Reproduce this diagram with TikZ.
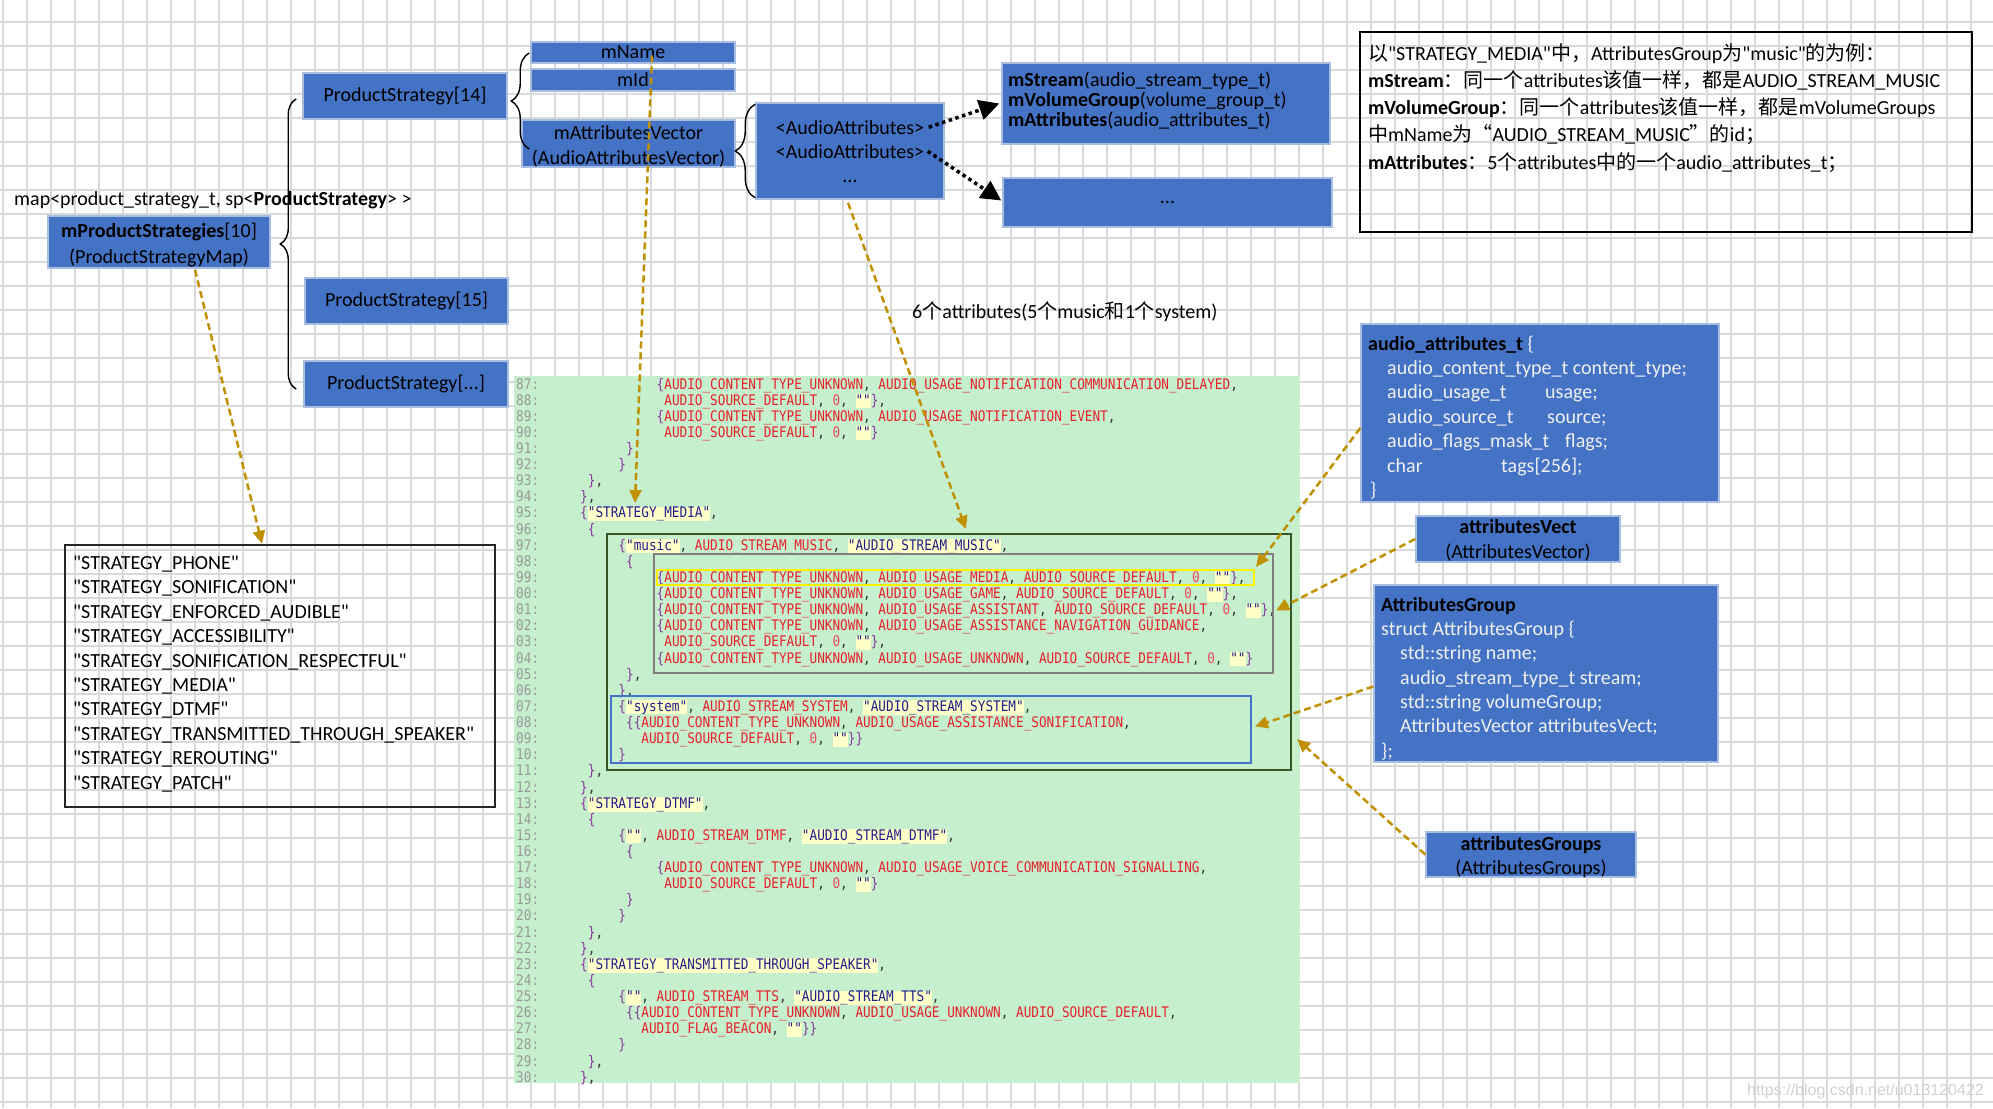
\documentclass[tikz,border=0pt]{standalone}
\usepackage{fontspec}
\setmainfont{Carlito}[Ligatures=TeXOff]
\newfontfamily\cjk{Noto Sans CJK SC}[Ligatures=TeXOff]
\newfontfamily\kcode{DejaVu Sans Mono}[FakeStretch=0.87,Ligatures=TeXOff]
\newfontfamily\wmfont{Liberation Sans}
\usetikzlibrary{arrows.meta,decorations.pathreplacing,calc}
\definecolor{boxblue}{HTML}{4472C4}
\definecolor{boxedge}{HTML}{A9BCE2}
\definecolor{codegreen}{HTML}{C6EFCE}
\definecolor{gold}{HTML}{BF9000}
\definecolor{gridc}{HTML}{D9D9D9}
\definecolor{kpurple}{HTML}{8B3A9E}
\definecolor{kred}{HTML}{E8202A}
\definecolor{kpink}{HTML}{EE4A5A}
\definecolor{knavy}{HTML}{1F1F8C}
\definecolor{kyellow}{HTML}{FFFFC8}
\definecolor{kdark}{HTML}{333333}
\definecolor{lngray}{HTML}{999999}
\definecolor{dkgreen}{HTML}{375623}
\definecolor{midgray}{HTML}{7F7F7F}
\definecolor{lightbody}{HTML}{F0F0F0}
\newcommand\kB[1]{\textcolor{kpurple}{#1}}
\newcommand\kI[1]{\textcolor{kred}{#1}}
\newcommand\kS[1]{{\setlength{\fboxsep}{0pt}\colorbox{kyellow}{\rule[-3pt]{0pt}{14pt}\textcolor{knavy}{#1}}}}
\newcommand\kN[1]{\textcolor{kpink}{#1}}
\newcommand\kLB{\kB{\{}}
\newcommand\kRB{\kB{\}}}
\newcommand\kACT{\kI{AUDIO\_CONTENT\_TYPE\_UNKNOWN}}
\newcommand\kASD{\kI{AUDIO\_SOURCE\_DEFAULT}}
\newcommand\kEMP{\kS{""}}
\newcommand\kline[4]{%
  \node[lnum,anchor=base west] (n#2) at (516,{389+#2*16.12}) {#1:};
  \node[codetxt,anchor=base west] (c#2) at ({580+#3*7.65},{389+#2*16.12}) {#4};}
\tikzset{
  bluebox/.style={draw=boxedge, fill=boxblue, line width=1.5pt, inner sep=0pt, text=black,
    font=\fontsize{20}{25}\selectfont, align=center},
  lbl/.style={inner sep=0pt, font=\fontsize{20}{25}\selectfont, anchor=base west},
  lblc/.style={inner sep=0pt, font=\fontsize{20}{25}\selectfont, anchor=base},
  codetxt/.style={inner sep=0pt, font=\kcode\fontsize{14.6}{16}\selectfont, text=kdark},
  lnum/.style={inner sep=0pt, font=\kcode\fontsize{14.6}{16}\selectfont, text=lngray},
  goldarrow/.style={draw=gold, line width=2.5pt, dash pattern=on 7pt off 4pt,
    -{Triangle[length=13pt,width=12pt]}},
  blackarrow/.style={draw=black, line width=3.5pt, dash pattern=on 3.5pt off 3.5pt,
    -{Triangle[length=20pt,width=20pt]}},
  bracestyle/.style={draw=black, line width=1.4pt, decorate, decoration={brace, amplitude=#1}},
  gridline/.style={draw=gridc, line width=1.2pt},
  framebox/.style={draw=#1, line width=2.2pt, inner sep=0pt, fill=none},
}
\begin{document}
\begin{tikzpicture}[x=1pt,y=-1pt]
\useasboundingbox (0,0) rectangle (1993,1108);
\clip (0,0) rectangle (1993,1108);
\fill[white] (0,0) rectangle (1993,1108);
% grid
\foreach \i in {0,...,83} \draw[gridline] ({3+24*\i},0) -- ({3+24*\i},1108);
\foreach \j in {0,...,45} \draw[gridline] (0,{22+24*\j}) -- (1993,{22+24*\j});

% code background
\node[fill=codegreen, inner sep=0pt, minimum width=786pt, minimum height=707pt] (codebg) at (907,729.5) {};

% code lines
\kline{87}{0}{10}{\kLB\kACT, \kI{AUDIO\_USAGE\_NOTIFICATION\_COMMUNICATION\_DELAYED},}
\kline{88}{1}{11}{\kASD, \kN{0}, \kEMP\kRB,}
\kline{89}{2}{10}{\kLB\kACT, \kI{AUDIO\_USAGE\_NOTIFICATION\_EVENT},}
\kline{90}{3}{11}{\kASD, \kN{0}, \kEMP\kRB}
\kline{91}{4}{6}{\kRB}
\kline{92}{5}{5}{\kRB}
\kline{93}{6}{1}{\kRB,}
\kline{94}{7}{0}{\kRB,}
\kline{95}{8}{0}{\kLB\kS{"STRATEGY\_MEDIA"},}
\kline{96}{9}{1}{\kLB}
\kline{97}{10}{5}{\kLB\kS{"music"}, \kI{AUDIO\_STREAM\_MUSIC}, \kS{"AUDIO\_STREAM\_MUSIC"},}
\kline{98}{11}{6}{\kLB}
\kline{99}{12}{10}{\kLB\kACT, \kI{AUDIO\_USAGE\_MEDIA}, \kASD, \kN{0}, \kEMP\kRB,}
\kline{00}{13}{10}{\kLB\kACT, \kI{AUDIO\_USAGE\_GAME}, \kASD, \kN{0}, \kEMP\kRB,}
\kline{01}{14}{10}{\kLB\kACT, \kI{AUDIO\_USAGE\_ASSISTANT}, \kASD, \kN{0}, \kEMP\kRB,}
\kline{02}{15}{10}{\kLB\kACT, \kI{AUDIO\_USAGE\_ASSISTANCE\_NAVIGATION\_GUIDANCE},}
\kline{03}{16}{11}{\kASD, \kN{0}, \kEMP\kRB,}
\kline{04}{17}{10}{\kLB\kACT, \kI{AUDIO\_USAGE\_UNKNOWN}, \kASD, \kN{0}, \kEMP\kRB}
\kline{05}{18}{6}{\kRB,}
\kline{06}{19}{5}{\kRB,}
\kline{07}{20}{5}{\kLB\kS{"system"}, \kI{AUDIO\_STREAM\_SYSTEM}, \kS{"AUDIO\_STREAM\_SYSTEM"},}
\kline{08}{21}{6}{\kLB\kLB\kACT, \kI{AUDIO\_USAGE\_ASSISTANCE\_SONIFICATION},}
\kline{09}{22}{8}{\kASD, \kN{0}, \kEMP\kRB\kRB}
\kline{10}{23}{5}{\kRB}
\kline{11}{24}{1}{\kRB,}
\kline{12}{25}{0}{\kRB,}
\kline{13}{26}{0}{\kLB\kS{"STRATEGY\_DTMF"},}
\kline{14}{27}{1}{\kLB}
\kline{15}{28}{5}{\kLB\kEMP, \kI{AUDIO\_STREAM\_DTMF}, \kS{"AUDIO\_STREAM\_DTMF"},}
\kline{16}{29}{6}{\kLB}
\kline{17}{30}{10}{\kLB\kACT, \kI{AUDIO\_USAGE\_VOICE\_COMMUNICATION\_SIGNALLING},}
\kline{18}{31}{11}{\kASD, \kN{0}, \kEMP\kRB}
\kline{19}{32}{6}{\kRB}
\kline{20}{33}{5}{\kRB}
\kline{21}{34}{1}{\kRB,}
\kline{22}{35}{0}{\kRB,}
\kline{23}{36}{0}{\kLB\kS{"STRATEGY\_TRANSMITTED\_THROUGH\_SPEAKER"},}
\kline{24}{37}{1}{\kLB}
\kline{25}{38}{5}{\kLB\kEMP, \kI{AUDIO\_STREAM\_TTS}, \kS{"AUDIO\_STREAM\_TTS"},}
\kline{26}{39}{6}{\kLB\kLB\kACT, \kI{AUDIO\_USAGE\_UNKNOWN}, \kASD,}
\kline{27}{40}{8}{\kI{AUDIO\_FLAG\_BEACON}, \kEMP\kRB\kRB}
\kline{28}{41}{5}{\kRB}
\kline{29}{42}{1}{\kRB,}
\kline{30}{43}{0}{\kRB,}

% frames in code
\node[framebox=dkgreen, minimum width=684pt, minimum height=236pt] (gbox) at (949,652) {};
\node[framebox=midgray, minimum width=619pt, minimum height=119pt] (graybox) at (963.5,613.5) {};
\node[framebox=yellow, minimum width=597pt, minimum height=15pt] (ybox) at (955.5,577.5) {};
\node[framebox=boxblue, line width=2pt, minimum width=640pt, minimum height=67pt] (bbox) at (931,729.5) {};

% blue boxes
\node[bluebox, minimum width=204pt, minimum height=21pt] (mname) at (633,52.5) {mName};
\node[bluebox, minimum width=204pt, minimum height=22pt] (mid) at (633,80) {mId};
\node[bluebox, minimum width=204pt, minimum height=46pt] (ps14) at (405,96) {ProductStrategy[14]};
\node[bluebox, minimum width=213pt, minimum height=47pt] (mav) at (628.5,143.5) {};
\node[lblc] (mavt1) at (628.5,139) {mAttributesVector};
\node[lblc] (mavt2) at (628.5,164) {(AudioAttributesVector)};
\node[bluebox, minimum width=188pt, minimum height=96pt] (aa) at (850,151) {};
\node[lblc] (aat1) at (850,134) {<AudioAttributes>};
\node[lblc] (aat2) at (850,158) {<AudioAttributes>};
\node[lblc] (aat3) at (850,182) {...};
\node[bluebox, minimum width=222pt, minimum height=52pt] (mps) at (159,242) {};
\node[lblc] (mpst1) at (159,237) {\textbf{mProductStrategies}[10]};
\node[lblc] (mpst2) at (159,263) {(ProductStrategyMap)};
\node[bluebox, minimum width=203pt, minimum height=46pt] (ps15) at (406.5,301) {ProductStrategy[15]};
\node[bluebox, minimum width=204pt, minimum height=46pt] (psdots) at (406,384) {ProductStrategy[...]};
\node[bluebox, minimum width=328pt, minimum height=81pt] (mstream) at (1166,103.5) {};
\node[lbl] (ms1) at (1008,86) {\textbf{mStream}(audio\_stream\_type\_t)};
\node[lbl] (ms2) at (1008,106) {\textbf{mVolumeGroup}(volume\_group\_t)};
\node[lbl] (ms3) at (1008,126) {\textbf{mAttributes}(audio\_attributes\_t)};
\node[bluebox, minimum width=329pt, minimum height=49pt] (dots) at (1167.5,202.5) {...};

% labels
\node[lbl] (maplbl) at (14,205) {map<product\_strategy\_t, sp<\textbf{ProductStrategy}> >};
\node[lbl] (sixlbl) at (912,318) {6{\cjk 个}attributes(5{\cjk 个}music{\cjk 和}1{\cjk 个}system)};

% note box
\node[draw=black, line width=2.5pt, inner sep=0pt, minimum width=612pt, minimum height=200pt] (note) at (1666,132) {};
\node[lbl] (nt1) at (1368,60) {{\cjk 以}"STRATEGY\_MEDIA"{\cjk 中，}AttributesGroup{\cjk 为}"music"{\cjk 的为例：}};
\node[lbl] (nt2) at (1368,88) {\textbf{mStream}{\cjk ：同一个}attributes{\cjk 该值一样，都是}AUDIO\_STREAM\_MUSIC};
\node[lbl] (nt3) at (1368,114) {\textbf{mVolumeGroup}{\cjk ：同一个}attributes{\cjk 该值一样，都是}mVolumeGroups};
\node[lbl] (nt4) at (1368,141) {{\cjk 中}mName{\cjk 为“}AUDIO\_STREAM\_MUSIC{\cjk ”的}id{\cjk ；}};
\node[lbl] (nt5) at (1368,169) {\textbf{mAttributes}{\cjk ：}5{\cjk 个}attributes{\cjk 中的一个}audio\_attributes\_t{\cjk ；}};

% audio_attributes_t box
\node[bluebox, minimum width=358pt, minimum height=178pt] (aat) at (1540,413) {};
\begin{scope}[every node/.style={lbl, text=lightbody}]
\node (aah) at (1368,350) {\textcolor{black}{\textbf{audio\_attributes\_t}} \{};
\node (aa1) at (1387,374) {audio\_content\_type\_t content\_type;};
\node (aa2) at (1387,398) {audio\_usage\_t};
\node (aa2b) at (1545,398) {usage;};
\node (aa3) at (1387,423) {audio\_source\_t};
\node (aa3b) at (1547,423) {source;};
\node (aa4) at (1387,447) {audio\_flags\_mask\_t};
\node (aa4b) at (1565,447) {flags;};
\node (aa5) at (1387,472) {char};
\node (aa5b) at (1501,472) {tags[256];};
\node (aa6) at (1370,496) {\}};
\end{scope}

% attributesVect
\node[bluebox, minimum width=204pt, minimum height=46pt] (avect) at (1518,539) {};
\node[lblc] (avt1) at (1518,533) {\textbf{attributesVect}};
\node[lblc] (avt2) at (1518,558) {(AttributesVector)};

% AttributesGroup
\node[bluebox, minimum width=344pt, minimum height=177pt] (agroup) at (1546,673.5) {};
\begin{scope}[every node/.style={lbl, text=lightbody}]
\node (ag0) at (1381,611) {\textcolor{black}{\textbf{AttributesGroup}}};
\node (ag1) at (1381,635) {struct AttributesGroup \{};
\node (ag2) at (1400,659) {std::string name;};
\node (ag3) at (1400,684) {audio\_stream\_type\_t stream;};
\node (ag4) at (1400,708) {std::string volumeGroup;};
\node (ag5) at (1400,732) {AttributesVector attributesVect;};
\node (ag6) at (1381,757) {\};};
\end{scope}

% attributesGroups
\node[bluebox, minimum width=210pt, minimum height=45pt] (agroups) at (1531,854.5) {};
\node[lblc] (agt1) at (1531,850) {\textbf{attributesGroups}};
\node[lblc] (agt2) at (1531,874) {(AttributesGroups)};

% strategy list
\node[draw=black!85, line width=2.5pt, inner sep=0pt, minimum width=430pt, minimum height=262pt] (strat) at (280,676) {};
\foreach \s [count=\k from 0] in {PHONE,SONIFICATION,ENFORCED\_AUDIBLE,ACCESSIBILITY,SONIFICATION\_RESPECTFUL,MEDIA,DTMF,TRANSMITTED\_THROUGH\_SPEAKER,REROUTING,PATCH}
  \node[lbl] (st\k) at (73,{569.5+24.4*\k}) {"STRATEGY\_\s"};

% braces
\draw[bracestyle=16pt] ($(psdots.west)+(-7,5)$) -- ($(ps14.west)+(-6,3)$);
\draw[bracestyle=18pt] ($(mav.west)+(8,5.5)$) -- ($(mname.west)+(-1,0.5)$);
\draw[bracestyle=20pt] ($(aa.south west)+(0,-2)$) -- ($(aa.north west)+(0,2)$);

% gold arrows
\draw[goldarrow] ($(mps.south)+(36,1)$) -- ($(strat.north)+(-18,0)$);
\draw[goldarrow] ($(mname.center)+(19,3)$) -- ($(c8.base west)+(55,-15)$);
\draw[goldarrow] ($(aa.south)+(-2,3)$) -- ($(gbox.north west)+(360,-4)$);
\draw[goldarrow] ($(aat.west)+(0,15)$) -- ($(ybox.north east)+(1,-2)$);
\draw[goldarrow] (avect.west) -- ($(graybox.east)+(2,-3)$);
\draw[goldarrow] ($(agroup.west)+(0,13)$) -- ($(bbox.east)+(3,-3)$);
\draw[goldarrow] (agroups.west) -- ($(gbox.south east)+(5,-32)$);

% black dotted arrows
\draw[blackarrow] ($(aa.north east)+(-16,25)$) -- ($(mstream.west)+(-2,0)$);
\draw[blackarrow] ($(aa.north east)+(-17,49)$) -- ($(dots.west)+(-1,-2)$);

% watermark
\node[inner sep=0pt, anchor=east, text=black!18, font=\wmfont\fontsize{16}{16}\selectfont] (wm) at (1984,1091) {https://blog.csdn.net/u013120422};
\end{tikzpicture}
\end{document}
